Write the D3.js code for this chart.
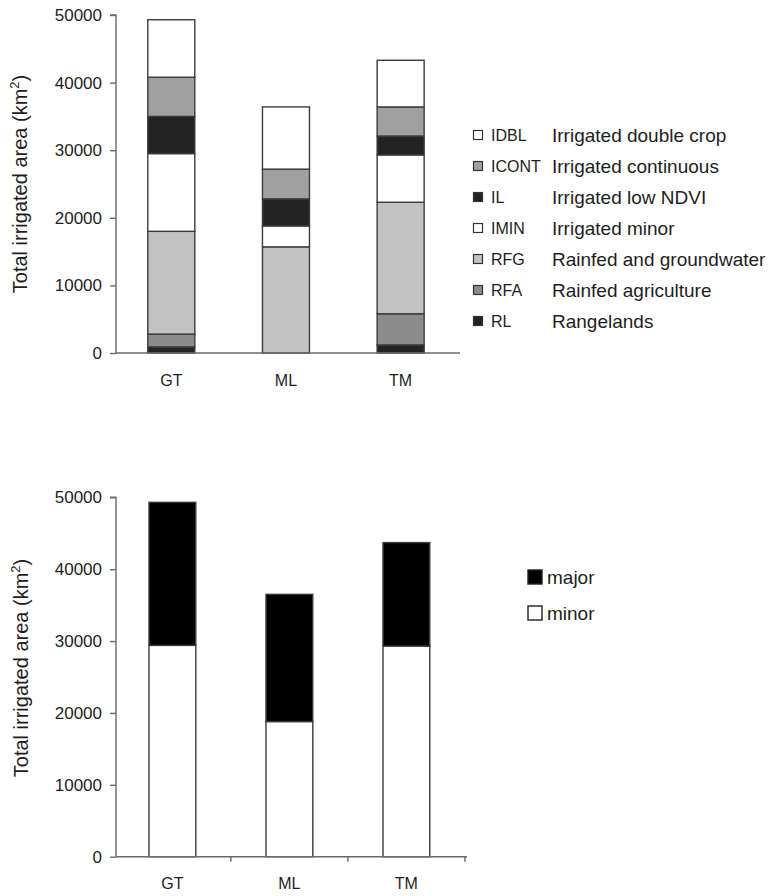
<!DOCTYPE html>
<html>
<head>
<meta charset="utf-8">
<script src="https://cdn.jsdelivr.net/npm/d3@7"></script>
<style>
  html, body { margin: 0; padding: 0; background: #fff; }
  svg { display: block; font-family: "Liberation Sans", Arial, sans-serif; }
</style>
</head>
<body>
<svg id="chart" width="773" height="896"></svg>
<script>
// ---------- DATA ----------
const categories = ["GT", "ML", "TM"];

// top chart classes, stacking order bottom -> top
const classCodes = ["RL", "RFA", "RFG", "IMIN", "IL", "ICONT", "IDBL"];
const classNames = ["Rangelands", "Rainfed agriculture", "Rainfed and groundwater",
                    "Irrigated minor", "Irrigated low NDVI", "Irrigated continuous",
                    "Irrigated double crop"];
const RL    = [900,   0,     1200];
const RFA   = [1900,  0,     4600];
const RFG   = [15200, 15700, 16500];
const IMIN  = [11500, 3100,  7000];
const IL    = [5500,  4000,  2800];
const ICONT = [5800,  4400,  4300];
const IDBL  = [8500,  9200,  6900];

// bottom chart
const minorCodes = ["minor", "major"];
const minor = [29400, 18800, 29300];
const major = [19900, 17700, 14400];

const yTicks = [0, 10000, 20000, 30000, 40000, 50000];
const yTitle = "Total irrigated area (km";

// ---------- STYLE ----------
const classColors = {RL: "#232323", RFA: "#8c8c8c", RFG: "#c2c2c2", IMIN: "#ffffff",
                     IL: "#232323", ICONT: "#a0a0a0", IDBL: "#ffffff"};
const mmColors = {major: "#000000", minor: "#ffffff"};
const axisColor = "#6a6a6a";
const textColor = "#1e1e1e";
const barStroke = "#3c3c3c";

const svg = d3.select("#chart");

function drawPanel(cfg) {
  const g = svg.append("g");
  const x = d3.scaleBand().domain(categories).range([cfg.x0, cfg.x1])
    .paddingInner(cfg.padIn).paddingOuter(cfg.padOut).align(cfg.align);
  const y = d3.scaleLinear().domain([0, 50000]).range([cfg.yBottom, cfg.yTop]);

  const rows = categories.map((c, i) => {
    const r = {cat: c};
    cfg.keys.forEach((k, j) => r[k] = cfg.series[j][i]);
    return r;
  });
  const stacked = d3.stack().keys(cfg.keys)(rows);

  g.selectAll("g.layer").data(stacked).join("g")
    .attr("class", "layer")
    .attr("fill", d => cfg.colors[d.key])
    .selectAll("rect").data(d => d.filter(s => s[1] - s[0] > 0)).join("rect")
    .attr("x", d => x(d.data.cat))
    .attr("width", x.bandwidth())
    .attr("y", d => y(d[1]))
    .attr("height", d => y(d[0]) - y(d[1]))
    .attr("stroke", barStroke)
    .attr("stroke-width", 1.4);

  // y axis
  const yAxis = g.append("g")
    .attr("transform", `translate(${cfg.x0},0)`)
    .call(d3.axisLeft(y).tickValues(yTicks).tickFormat(d3.format("d"))
      .tickSize(6).tickPadding(8));
  yAxis.select(".domain").attr("stroke", axisColor).attr("stroke-width", 1.4)
    .attr("d", `M-6,${y(50000)}H0V${y(0)}`);
  yAxis.selectAll(".tick line").attr("stroke", axisColor).attr("stroke-width", 1.4);
  yAxis.selectAll(".tick text").attr("fill", textColor)
    .style("font-size", "17px").style("font-family", "Liberation Sans, Arial, sans-serif");

  // x axis
  const xAxis = g.append("g").attr("transform", `translate(0,${cfg.yBottom})`);
  xAxis.append("line").attr("x1", cfg.x0).attr("x2", cfg.x1)
    .attr("stroke", axisColor).attr("stroke-width", 1.4);
  if (cfg.xTicks) {
    const step = x.step();
    const bounds = categories.map((c, i) => x(c) + x.bandwidth() / 2 + step / 2);
    xAxis.selectAll("line.tk").data(bounds).join("line").attr("class", "tk")
      .attr("x1", d => d).attr("x2", d => d).attr("y1", 0).attr("y2", 5)
      .attr("stroke", axisColor).attr("stroke-width", 1.4);
  }
  xAxis.selectAll("text.xl").data(categories).join("text").attr("class", "xl")
    .attr("x", d => x(d) + x.bandwidth() / 2)
    .attr("y", cfg.labelDy)
    .attr("text-anchor", "middle")
    .attr("fill", textColor)
    .style("font-size", "16px")
    .text(d => d);

  // y title
  const t = g.append("text")
    .attr("transform", `translate(${cfg.titleX},${cfg.titleY}) rotate(-90)`)
    .attr("text-anchor", "middle")
    .attr("fill", textColor)
    .style("font-size", "20px");
  t.append("tspan").text(yTitle);
  t.append("tspan").attr("dy", -8).style("font-size", "13px").text("2");
  t.append("tspan").attr("dy", 8).text(")");
  return g;
}

// top panel
drawPanel({
  x0: 116, x1: 460, yBottom: 353, yTop: 15,
  padIn: 0.59, padOut: 0.295, align: 0.47,
  keys: classCodes, series: [RL, RFA, RFG, IMIN, IL, ICONT, IDBL],
  colors: classColors, xTicks: false, labelDy: 33, titleX: 27, titleY: 184
});

// bottom panel
drawPanel({
  x0: 116, x1: 467, yBottom: 856.7, yTop: 497.3,
  padIn: 0.6, padOut: 0.3, align: 0.47,
  keys: minorCodes, series: [minor, major],
  colors: mmColors, xTicks: true, labelDy: 32, titleX: 28, titleY: 668
});

// top legend (listed top -> bottom in reverse stacking order)
const legTop = svg.append("g");
const legItems = classCodes.map((c, i) => ({code: c, name: classNames[i]})).reverse();
const lr = legTop.selectAll("g").data(legItems).join("g")
  .attr("transform", (d, i) => `translate(0,${135 + i * 31})`);
lr.append("rect").attr("x", 473.5).attr("y", -4.5).attr("width", 9).attr("height", 9)
  .attr("fill", d => classColors[d.code]).attr("stroke", "#333").attr("stroke-width", 1.2);
lr.append("text").attr("x", 491).attr("y", 5.8).attr("fill", textColor)
  .style("font-size", "16px").text(d => d.code);
lr.append("text").attr("x", 552).attr("y", 6.8).attr("fill", textColor)
  .style("font-size", "19px").text(d => d.name);

// bottom legend
const legBot = svg.append("g");
const mmItems = ["major", "minor"];
const br = legBot.selectAll("g").data(mmItems).join("g")
  .attr("transform", (d, i) => `translate(0,${577 + i * 36})`);
br.append("rect").attr("x", 528).attr("y", -7).attr("width", 14).attr("height", 14)
  .attr("fill", d => mmColors[d]).attr("stroke", "#222").attr("stroke-width", 1.4);
br.append("text").attr("x", 547).attr("y", 6.5).attr("fill", textColor)
  .style("font-size", "19px").text(d => d);
</script>
</body>
</html>
